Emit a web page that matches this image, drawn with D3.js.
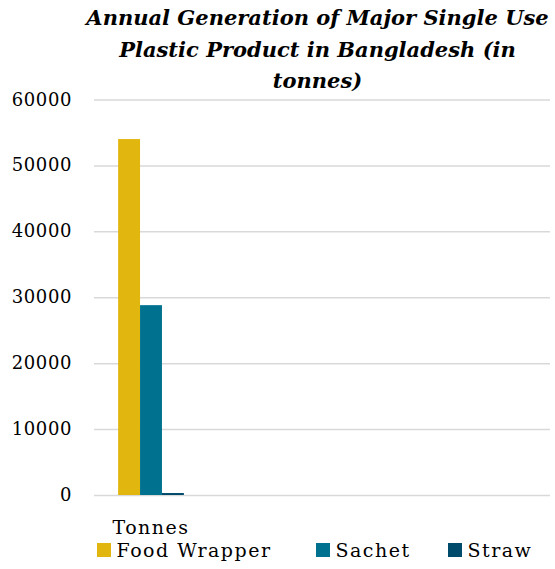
<!DOCTYPE html>
<html>
<head>
<meta charset="utf-8">
<script src="https://cdn.jsdelivr.net/npm/d3@7"></script>
<style>
    body { margin: 0; background: #fff; }
    text { font-family: "DejaVu Serif", serif; fill: #000; }
    .title-text { font-weight: bold; font-style: italic; font-size: 21px; }
    .tick-text { font-size: 18px; letter-spacing: 0.6px; }
    .legend-text { font-size: 19px; letter-spacing: 1.5px; }
</style>
</head>
<body>
<div id="chart"></div>
<script>
// chart data
const categories = ["Tonnes", "c2", "c3", "c4"];
const categoryLabels = ["Tonnes", "", "", ""];
const seriesNames = ["Food Wrapper", "Sachet", "Straw"];
const seriesValues = [
    [54000, null, null, null],
    [28800, null, null, null],
    [300, null, null, null]
];
const yTicks = [0, 10000, 20000, 30000, 40000, 50000, 60000];
const titleLines = ["Annual Generation of Major Single Use", "Plastic Product in Bangladesh (in", "tonnes)"];
const colors = ["#E1B70F", "#00718F", "#004B6B"];

const W = 555, H = 569;
const plot = { left: 94, right: 550, top: 99.5, bottom: 495 };

const svg = d3.select("#chart").append("svg")
    .attr("width", W).attr("height", H);

/* title */
svg.append("g").selectAll("text")
    .data(titleLines)
    .join("text")
    .attr("class", "title-text")
    .attr("x", 317.5)
    .attr("y", (d, i) => 25 + i * 31.5)
    .attr("text-anchor", "middle")
    .text(d => d);

/* scales */
const x0 = d3.scaleBand().domain(categories).range([plot.left, plot.right]).paddingInner(0).paddingOuter(0);
const x1 = d3.scaleBand().domain(seriesNames).range([0, x0.bandwidth()]).paddingOuter(1.1).paddingInner(0);
const y = d3.scaleLinear().domain([0, 60000]).range([plot.bottom, plot.top]);

/* gridlines */
svg.append("g")
    .attr("transform", `translate(${plot.left},0)`)
    .call(d3.axisLeft(y).tickValues(yTicks).tickSize(-(plot.right - plot.left)).tickFormat(""))
    .call(g => g.select(".domain").remove())
    .call(g => g.selectAll(".tick line").attr("stroke", "#d9d9d9").attr("stroke-width", 1.5));

/* y labels */
svg.append("g").selectAll("text")
    .data(yTicks)
    .join("text")
    .attr("class", "tick-text")
    .attr("x", 72)
    .attr("y", d => y(d) + 6)
    .attr("text-anchor", "end")
    .text(d => d);

/* bars */
seriesNames.forEach((name, si) => {
    svg.append("g").selectAll("rect")
        .data(seriesValues[si].map((v, ci) => ({ v, c: categories[ci] })).filter(d => d.v != null))
        .join("rect")
        .attr("x", d => x0(d.c) + x1(name))
        .attr("width", x1.bandwidth())
        .attr("y", d => y(d.v))
        .attr("height", d => y(0) - y(d.v))
        .attr("fill", colors[si]);
});

/* category labels */
svg.append("g").selectAll("text")
    .data(categories)
    .join("text")
    .attr("class", "legend-text")
    .attr("x", d => x0(d) + x0.bandwidth() / 2)
    .attr("y", 534)
    .attr("text-anchor", "middle")
    .text((d, i) => categoryLabels[i]);

/* legend */
const legendX = [97, 316, 448];
const leg = svg.append("g").selectAll("g")
    .data(seriesNames)
    .join("g")
    .attr("transform", (d, i) => `translate(${legendX[i]},543)`);
leg.append("rect").attr("width", 14).attr("height", 14).attr("fill", (d, i) => colors[i]);
leg.append("text").attr("class", "legend-text").attr("x", 19.5).attr("y", 13.5).text(d => d);
</script>
</body>
</html>
